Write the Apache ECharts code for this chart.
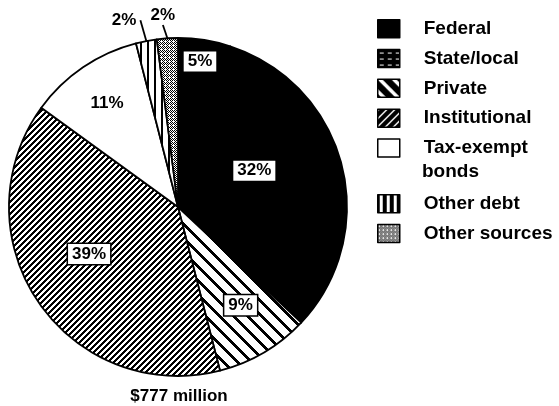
<!DOCTYPE html>
<html><head><meta charset="utf-8">
<script src="https://cdn.jsdelivr.net/npm/echarts@6/dist/echarts.min.js"></script>
<style>html,body{margin:0;padding:0;background:#fff}#c{width:559px;height:406px}</style>
</head><body><div id="c"></div>
<script>
// ---- data (clockwise from 12 o'clock) ----
const categories = ['State/local', 'Federal', 'Private', 'Institutional', 'Tax-exempt bonds', 'Other debt', 'Other sources'];
const shares = [5, 32, 9, 39, 11, 2, 2];
const shareLabels = ['5%', '32%', '9%', '39%', '11%', '2%', '2%'];
const legendOrderTop = ['Federal', 'State/local', 'Private', 'Institutional', 'Tax-exempt bonds'];
const legendOrderBottom = ['Other debt', 'Other sources'];
const totalLabel = '$777 million';

// ---- layout / style config ----
const CX = 178, CY = 207, R = 169;
const FONT = '"Liberation Sans", Arial, Helvetica, sans-serif';
// label placement: [angle deg clockwise from north, radius as fraction of R]
const labelPlacement = [[8.6, 0.87], [64.6, 0.50], [147.5, 0.69], [242.2, 0.595], [325.7, 0.745], [343.9, 1.15], [355.5, 1.14]];
const boxed = [true, true, true, true, false, false, false];
const outside = [false, false, false, false, false, true, true];

function makePattern(w, h, bg, fg, fn) {
  const c = document.createElement('canvas'); c.width = w; c.height = h;
  const ctx = c.getContext('2d');
  ctx.fillStyle = bg; ctx.fillRect(0, 0, w, h);
  ctx.fillStyle = fg;
  for (let y = 0; y < h; y++) for (let x = 0; x < w; x++) if (fn(x, y)) ctx.fillRect(x, y, 1, 1);
  return { image: c, repeat: 'repeat' };
}
const mod = (a, n) => ((a % n) + n) % n;
const pat = {
  'State/local': '#000',
  'Federal': '#000',
  'Private': makePattern(14, 14, '#fff', '#000', (x, y) => mod(x - y, 14) < 4),
  'Institutional': makePattern(6, 6, '#fff', '#000', (x, y) => mod(x + y, 6) < 3),
  'Tax-exempt bonds': '#fff',
  'Other debt': makePattern(7, 1, '#fff', '#000', (x) => x < 2),
  'Other sources': makePattern(4, 4, '#fff', '#000', (x, y) => (x + y) % 2 === 0 && !(x === 1 && y === 1))
};
const legendPat = {
  'State/local': makePattern(8, 6, '#000', '#fff', (x, y) => y === 3 && x >= 2 && x <= 5),
  'Private': makePattern(14, 14, '#000', '#fff', (x, y) => mod(x - y, 14) < 5),
  'Institutional': makePattern(8, 8, '#000', '#fff', (x, y) => mod(x + y, 8) < 2),
  'Other debt': makePattern(7, 1, '#000', '#fff', (x) => x >= 2 && x <= 4)
};

const seriesData = categories.map((name, i) => {
  const item = { name: name, value: shares[i], itemStyle: { color: pat[name] } };
  item.label = {
    position: outside[i] ? 'outside' : 'inside',
    backgroundColor: boxed[i] ? '#fff' : 'transparent',
    borderColor: boxed[i] ? '#000' : 'transparent',
    borderWidth: boxed[i] ? 1.5 : 0
  };
  item.labelLine = outside[i]
    ? { show: true, length: 6, length2: 0, lineStyle: { color: '#000', width: 1.8 } }
    : { show: false };
  return item;
});

function legendData(names) {
  return names.map(n => legendPat[n] ? { name: n, itemStyle: { color: legendPat[n] } } : { name: n });
}
const legendCommon = {
  orient: 'vertical', left: 372, itemWidth: 22, itemHeight: 18, itemGap: 10.3,
  icon: 'rect',
  selectedMode: false,
  itemStyle: { borderColor: '#000', borderWidth: 1.5 },
  formatter: n => n === 'Tax-exempt bonds' ? 'Tax-exempt' : n,
  textStyle: { fontFamily: FONT, fontWeight: 'bold', fontSize: 19, lineHeight: 19, color: '#000', padding: [0, 0, 0, 19] }
};

const chart = echarts.init(document.getElementById('c'), null, { renderer: 'canvas' });
chart.setOption({
  animation: false,
  backgroundColor: '#fff',
  legend: [
    Object.assign({}, legendCommon, { top: 14, data: legendData(legendOrderTop) }),
    Object.assign({}, legendCommon, { top: 189, data: legendData(legendOrderBottom) })
  ],
  graphic: [
    { type: 'text', x: 422, y: 172, silent: true,
      style: { text: 'bonds', font: 'bold 19px ' + FONT, fill: '#000', align: 'left', verticalAlign: 'middle' } },
    { type: 'text', x: 179, y: 396, silent: true,
      style: { text: totalLabel, font: 'bold 17px ' + FONT, fill: '#000', align: 'center', verticalAlign: 'middle' } }
  ],
  series: [{
    type: 'pie',
    center: [CX, CY],
    radius: R,
    startAngle: 90,
    clockwise: true,
    avoidLabelOverlap: false,
    emphasis: { disabled: true },
    itemStyle: { borderColor: '#000', borderWidth: 1.8 },
    label: {
      show: true,
      formatter: p => shareLabels[p.dataIndex],
      fontFamily: FONT, fontWeight: 'bold', fontSize: 17, color: '#000',
      padding: [2, 4, 1, 4]
    },
    labelLayout: function (p) {
      const pl = labelPlacement[p.dataIndex];
      const a = pl[0] * Math.PI / 180, r = pl[1] * R;
      return { x: CX + r * Math.sin(a), y: CY - r * Math.cos(a), align: 'center', verticalAlign: 'middle' };
    },
    data: seriesData
  }]
});
</script>
</body></html>
